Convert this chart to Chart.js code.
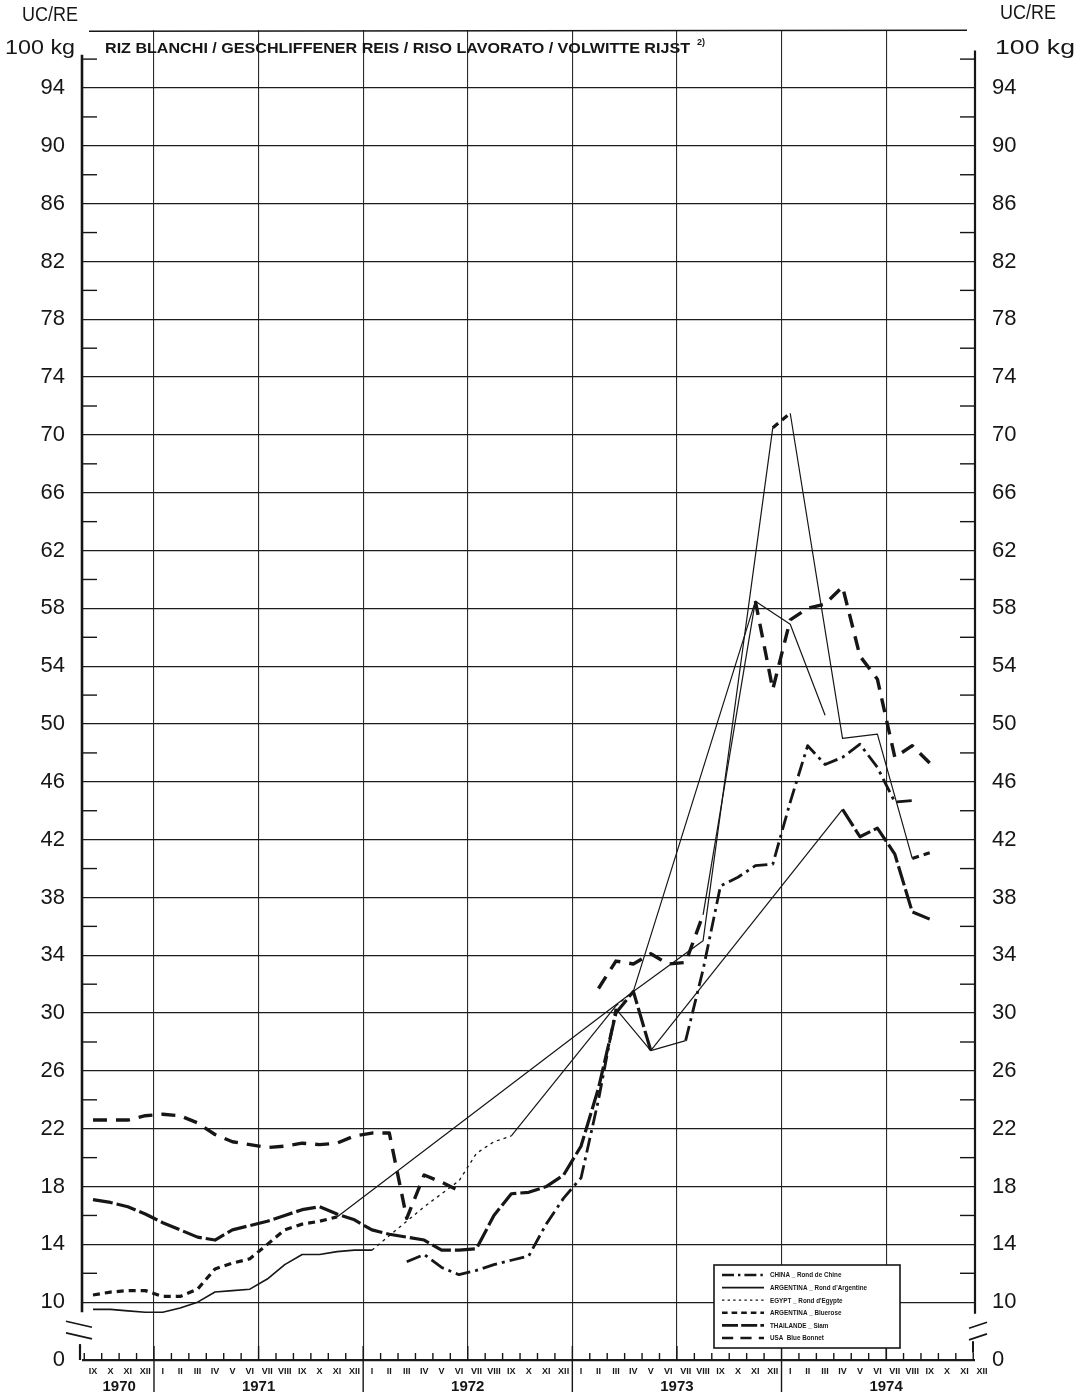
<!DOCTYPE html>
<html>
<head>
<meta charset="utf-8">
<title>Riz blanchi - prix 1970-1974</title>
<script src="https://cdn.jsdelivr.net/npm/chart.js"></script>
<style>
  html, body { margin: 0; padding: 0; background: #fff; }
  #wrap { width: 1077px; height: 1396px; }
</style>
</head>
<body>
<div id="wrap"><canvas id="riceChart" width="1077" height="1396"></canvas></div>
<script>
    // Monthly quotes, UC/RE per 100 kg, IX 1970 .. XII 1974 (null = no quote)
    const months = [
        'IX', 'X', 'XI', 'XII',
        'I', 'II', 'III', 'IV', 'V', 'VI', 'VII', 'VIII', 'IX', 'X', 'XI', 'XII',
        'I', 'II', 'III', 'IV', 'V', 'VI', 'VII', 'VIII', 'IX', 'X', 'XI', 'XII',
        'I', 'II', 'III', 'IV', 'V', 'VI', 'VII', 'VIII', 'IX', 'X', 'XI', 'XII',
        'I', 'II', 'III', 'IV', 'V', 'VI', 'VII', 'VIII', 'IX', 'X', 'XI', 'XII'
    ];
    const years = ['1970', '1971', '1972', '1973', '1974'];

    const chinaRond = [
        null, null, null, null,
        null, null, null, null, null, null, null, null, null, null, null, null,
        null, null, 12.8, 13.3, 12.4, 11.9, 12.2, 12.6, 12.9, 13.2, 15.4, 17.2,
        18.6, 24.0, 30.3, null, 27.4, null, 28.1, 33.0, 38.8, 39.4, 40.2, 40.3,
        44.6, 48.5, 47.2, 47.7, 48.6, 47.0, 44.6, 44.7, null, null, null, null
    ];
    const argentinaRond = [
        9.5, 9.5, 9.4, 9.3,
        9.3, 9.6, 10.0, 10.7, 10.8, 10.9, 11.6, 12.6, 13.3, 13.3, 13.5, 13.6,
        13.6, null, null, null, null, null, null, null, null, null, null, null,
        null, null, null, null, null, null, null, null, null, null, null, null,
        null, null, null, null, null, null, null, null, null, null, null, null
    ];
    const egyptRond = [
        null, null, null, null,
        null, null, null, null, null, null, null, null, null, null, null, null,
        13.6, 14.6, 15.6, 16.6, 17.5, 18.4, 20.3, 21.1, 21.5, null, null, null,
        null, null, 30.5, 31.5, null, null, null, null, null, null, 58.5, null,
        56.9, null, 50.6, null, null, null, null, null, null, null, null, null
    ];
    const argentinaBluerose = [
        10.5, 10.7, 10.8, 10.8,
        10.4, 10.4, 10.9, 12.3, 12.7, 13.0, 14.0, 15.0, 15.4, 15.6, 15.9, null,
        null, null, null, null, null, null, null, null, null, null, null, null,
        null, null, null, 31.5, null, null, null, 35.0, null, null, null, 70.5,
        71.5, null, null, 49.0, null, 49.3, null, 40.7, 41.1, null, null, null
    ];
    const thaiSiam = [
        17.1, 16.9, 16.6, 16.1,
        15.5, 15.0, 14.5, 14.3, 15.0, 15.3, 15.6, 16.0, 16.4, 16.6, 16.1, 15.7,
        15.0, 14.7, 14.5, 14.3, 13.6, 13.6, 13.7, 16.0, 17.5, 17.6, 18.0, 18.8,
        20.8, 24.8, 30.0, 31.5, 27.4, null, null, null, null, null, null, null,
        null, null, null, 44.1, 42.2, 42.8, 41.0, 37.0, 36.5, null, null, null
    ];
    const usaBlueBonnet = [
        22.6, 22.6, 22.6, 22.9,
        23.0, 22.9, 22.4, 21.6, 21.1, 20.9, 20.7, 20.8, 21.0, 20.9, 21.0, 21.5,
        21.7, 21.7, 15.8, 18.8, 18.3, 17.7, null, null, null, null, null, null,
        null, 31.7, 33.6, 33.4, 34.1, 33.4, 33.5, 36.8, null, null, 58.5, 52.4,
        57.2, 58.0, 58.3, 59.5, 54.7, 53.1, 47.7, 48.5, 47.3, null, null, null
    ];

    // labelled gridlines; the axis is broken below 10, its base line stands for 0
    const yTickValues = [6, 10, 14, 18, 22, 26, 30, 34, 38, 42, 46, 50, 54, 58, 62, 66, 70, 74, 78, 82, 86, 90, 94, 98];

    const ink = '#161616';
    const narrow = "'Liberation Sans Narrow', 'Liberation Sans', Arial, sans-serif";

    const isGap = c => c.p0.skip || c.p1.skip;

    function series(label, values, width, dash, hidden = []) {
        return {
            label: label,
            data: values.map((v, i) => ({ x: i, y: v })),
            borderColor: ink,
            borderWidth: width,
            borderDash: dash,
            borderJoinStyle: 'round',
            spanGaps: true,
            pointRadius: 0,
            fill: false,
            tension: 0,
            // months without a quote are bridged by a thin plain line
            segment: {
                borderWidth: c => isGap(c) ? 1.2 : undefined,
                borderDash: c => isGap(c) ? [] : undefined,
                borderColor: c => (isGap(c) && hidden.some(([a, b]) => c.p0DataIndex >= a && c.p1DataIndex <= b)) ? 'rgba(0,0,0,0)' : undefined
            }
        };
    }

    const datasets = [
        series('CHINA _ Rond de Chine', chinaRond, 2.8, [15, 5, 3, 5]),
        series("ARGENTINA _ Rond d'Argentine", argentinaRond, 1.6, []),
        series("EGYPT _ Rond d'Egypte", egyptRond, 1.3, [3, 4]),
        series('ARGENTINA _ Bluerose', argentinaBluerose, 3.2, [7, 5]),
        series('THAILANDE _ Siam', thaiSiam, 3.2, [20, 4]),
        series('USA  Blue Bonnet', usaBlueBonnet, 3.4, [14, 9], [[21, 29]])
    ];

    function line(ctx, x1, y1, x2, y2, w) {
        ctx.lineWidth = w;
        ctx.beginPath();
        ctx.moveTo(x1, y1);
        ctx.lineTo(x2, y2);
        ctx.stroke();
    }

    function squeezedText(ctx, text, x, y, width) {
        const w = ctx.measureText(text).width;
        ctx.save();
        ctx.translate(x, y);
        ctx.scale(width / w, 1);
        ctx.fillText(text, 0, 0);
        ctx.restore();
    }

    const frame = {
        id: 'frame',
        afterDraw(chart) {
            const { ctx, chartArea: a, scales: { x, y } } = chart;
            ctx.save();
            ctx.strokeStyle = ink;
            ctx.fillStyle = ink;
            ctx.lineCap = 'butt';

            // top rule, kept clear of the side axes
            const top = y.getPixelForValue(yTickValues[yTickValues.length - 1]);
            line(ctx, a.left + 7, top + 1, a.right - 8, top, 1.4);

            // side axes, broken between 10 and the base
            line(ctx, a.left, y.getPixelForValue(96.3), a.left, y.getPixelForValue(9.3), 2.6);
            line(ctx, a.right, y.getPixelForValue(96.6), a.right, y.getPixelForValue(9.2), 2.2);
            line(ctx, a.left - 2, y.getPixelForValue(7.1), a.left - 2, a.bottom, 2.2);
            line(ctx, a.right - 2, y.getPixelForValue(7.3), a.right - 2, y.getPixelForValue(6.5), 2);
            // break marks
            const b1 = y.getPixelForValue(8.4), b2 = y.getPixelForValue(7.6);
            line(ctx, a.left - 16, b1 - 4, a.left + 10, b1 + 2, 1.6);
            line(ctx, a.left - 16, b2 - 4, a.left + 10, b2 + 2, 1.6);
            line(ctx, a.right - 6, b1 + 3, a.right + 12, b1 - 3, 1.6);
            line(ctx, a.right - 6, b2 + 3, a.right + 12, b2 - 3, 1.6);

            // short ticks halfway between the gridlines
            for (let i = 1; i < yTickValues.length - 1; i++) {
                const py = y.getPixelForValue(yTickValues[i] + 2);
                line(ctx, a.left, py, a.left + 15, py, 1.4);
                line(ctx, a.right - 15, py, a.right, py, 1.4);
            }

            // month ticks along the base
            for (let i = 0; i <= months.length; i++) {
                const bx = x.getPixelForValue(i - 0.5);
                if (bx < a.left + 2 || bx > a.right) continue;
                const m = months[i];
                const h = (m === 'I' || m === 'VII') ? 14 : 7;
                line(ctx, bx, a.bottom, bx, a.bottom - h, 1.4);
                if (m === 'I') line(ctx, bx, a.bottom, bx, a.bottom + 32, 1.4);
            }
            ctx.textAlign = 'center';
            ctx.textBaseline = 'middle';
            ctx.font = 'bold 9px ' + narrow;
            months.forEach((m, i) => {
                ctx.fillText(m, x.getPixelForValue(i), a.bottom + 12);
            });
            ctx.font = 'bold 15px ' + narrow;
            let first = 0, k = 0;
            months.forEach((m, i) => {
                const last = i === months.length - 1 || months[i + 1] === 'I';
                if (last) {
                    ctx.fillText(years[k], x.getPixelForValue((first + i) / 2), a.bottom + 27);
                    first = i + 1;
                    k++;
                }
            });

            // units and title
            ctx.textAlign = 'left';
            ctx.font = '20px ' + narrow;
            squeezedText(ctx, 'UC/RE', 22, 15, 56);
            squeezedText(ctx, 'UC/RE', 1000, 13, 56);
            ctx.font = '21px ' + narrow;
            squeezedText(ctx, '100 kg', 5, 48, 70);
            squeezedText(ctx, '100 kg', 995, 48, 80);
            ctx.font = 'bold 15px ' + narrow;
            squeezedText(ctx, 'RIZ BLANCHI / GESCHLIFFENER REIS / RISO LAVORATO / VOLWITTE RIJST', 105, 49, 585);
            ctx.font = 'bold 9px ' + narrow;
            ctx.fillText('2)', 697, 43);

            // legend box
            const lx = 714, ly = 1265, lw = 186, lh = 83;
            ctx.fillStyle = '#fff';
            ctx.fillRect(lx, ly, lw, lh);
            ctx.fillStyle = ink;
            ctx.lineWidth = 1.6;
            ctx.strokeRect(lx, ly, lw, lh);
            ctx.font = 'bold 7px ' + narrow;
            chart.data.datasets.forEach((ds, i) => {
                const ry = ly + 10 + i * 12.6;
                ctx.save();
                ctx.setLineDash(ds.borderDash.map(d => d * 0.8));
                line(ctx, lx + 8, ry, lx + 50, ry, Math.min(ds.borderWidth, 2.6));
                ctx.restore();
                squeezedText(ctx, ds.label, lx + 56, ry + 0.5, ctx.measureText(ds.label).width * 0.9);
            });
            ctx.restore();
        }
    };

    const halfYears = [];
    months.forEach((m, i) => { if (i > 0 && (m === 'I' || m === 'VII')) halfYears.push(i - 0.5); });

    new Chart(document.getElementById('riceChart').getContext('2d'), {
        type: 'line',
        data: { datasets: datasets },
        options: {
            responsive: false,
            animation: false,
            devicePixelRatio: 1,
            layout: { padding: { top: 27, left: 0, right: 0, bottom: 0 } },
            plugins: { legend: { display: false }, tooltip: { enabled: false } },
            scales: {
                x: {
                    type: 'linear',
                    min: -0.63,
                    max: 50.6,
                    afterFit: s => { s.height = 36; },
                    afterBuildTicks: s => { s.ticks = halfYears.map(v => ({ value: v })); },
                    ticks: { display: false },
                    grid: { color: '#2a2a2a', lineWidth: 1.1, drawTicks: false },
                    border: { display: false }
                },
                y: {
                    position: 'left',
                    min: 6,
                    max: 98,
                    afterFit: s => { s.width = 82; },
                    afterBuildTicks: s => { s.ticks = yTickValues.map(v => ({ value: v })); },
                    ticks: {
                        padding: 17,
                        color: ink,
                        font: { family: narrow, size: 22 },
                        callback: v => v === 6 ? '0' : (v === 98 ? '' : String(v))
                    },
                    grid: {
                        color: c => c.tick && c.tick.value === 98 ? 'rgba(0,0,0,0)' : '#1c1c1c',
                        lineWidth: c => c.tick && c.tick.value === 6 ? 2.2 : 1.3,
                        drawTicks: false
                    },
                    border: { display: false }
                },
                y2: {
                    position: 'right',
                    min: 6,
                    max: 98,
                    afterFit: s => { s.width = 102; },
                    afterBuildTicks: s => { s.ticks = yTickValues.map(v => ({ value: v })); },
                    ticks: {
                        padding: 17,
                        color: ink,
                        font: { family: narrow, size: 22 },
                        callback: v => v === 6 ? '0' : (v === 98 ? '' : String(v))
                    },
                    grid: { display: false, drawTicks: false },
                    border: { display: false }
                }
            }
        },
        plugins: [frame]
    });
</script>
</body>
</html>
